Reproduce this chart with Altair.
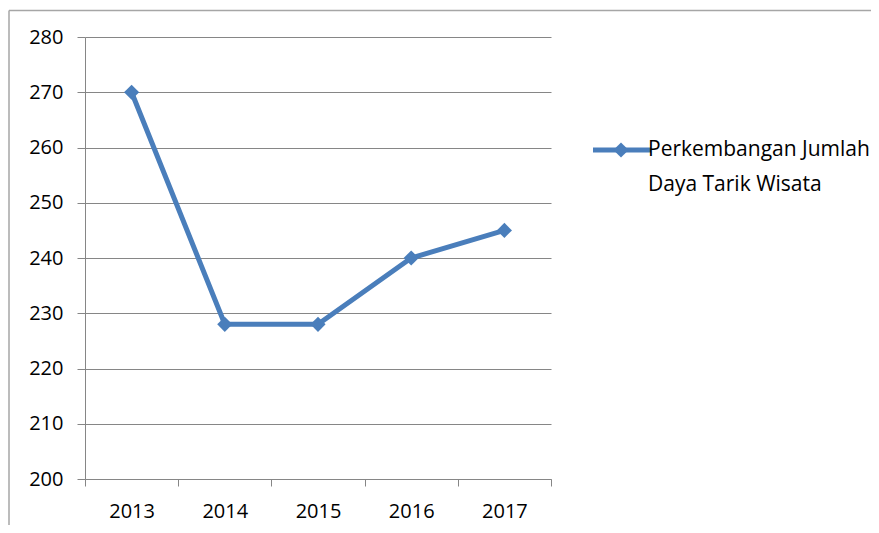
import altair as alt
import pandas as pd

years = ["2013", "2014", "2015", "2016", "2017"]
values = [270, 228, 228, 240, 245]
legend_lines = ["Perkembangan Jumlah", "Daya Tarik Wisata"]
y_ticks = [200, 210, 220, 230, 240, 250, 260, 270, 280]

df = pd.DataFrame({"year": years, "value": values})

BLUE = "#4a7ebb"
GRAY = "#868686"
FONT = "Open Sans"

x_enc = alt.X(
    "year:O",
    bandPosition=0.5,
    scale=alt.Scale(type="band", paddingInner=0, paddingOuter=0),
    axis=alt.Axis(title=None, labelAngle=0, tickBand="extent", tickSize=7,
                  labelPadding=15, grid=False),
)
y_enc = alt.Y(
    "value:Q",
    scale=alt.Scale(domain=[200, 280], nice=False, zero=False),
    axis=alt.Axis(title=None, values=y_ticks, tickSize=8, labelPadding=14,
                  grid=True),
)

line = alt.Chart(df).mark_line(
    color=BLUE, strokeWidth=5, point=alt.OverlayMarkDef(shape="diamond", size=230, color=BLUE, filled=True, opacity=1)
).encode(x=x_enc, y=y_enc)

one = alt.Data(values=[{}])

leg_line = alt.Chart(one).mark_rule(color=BLUE, strokeWidth=5).encode(
    x=alt.value(508), x2=alt.value(566), y=alt.value(113)
)
leg_pt = alt.Chart(one).mark_point(shape="diamond", size=230, color=BLUE, filled=True, opacity=1).encode(
    x=alt.value(536), y=alt.value(113)
)
leg_text = alt.Chart(one).mark_text(
    align="left", baseline="middle", font=FONT, fontSize=21, color="#000000",
    lineHeight=35
).encode(x=alt.value(563), y=alt.value(113), text=alt.value(legend_lines))

frame_top = alt.Chart(one).mark_rule(color="#a6a6a6", strokeWidth=1.5).encode(
    x=alt.value(-76), x2=alt.value(790), y=alt.value(-26.5)
)
frame_left = alt.Chart(one).mark_rule(color="#a6a6a6", strokeWidth=1.5).encode(
    x=alt.value(-76), y=alt.value(-26.5), y2=alt.value(500)
)

chart = alt.layer(line, leg_line, leg_pt, leg_text, frame_top, frame_left).properties(
    width=466, height=442,
    autosize=alt.AutoSizeParams(type="none"),
    padding={"left": 77, "top": 29, "right": 320, "bottom": 46},
    background="white",
).configure_view(stroke=None).configure_axis(
    labelFont=FONT, labelFontSize=20, labelColor="#000000",
    domainColor=GRAY, tickColor=GRAY, gridColor=GRAY,
    domainWidth=1, tickWidth=1, gridWidth=1, gridOpacity=1,
)

chart.save("out.html", embed_options={"renderer": "svg", "actions": False})
